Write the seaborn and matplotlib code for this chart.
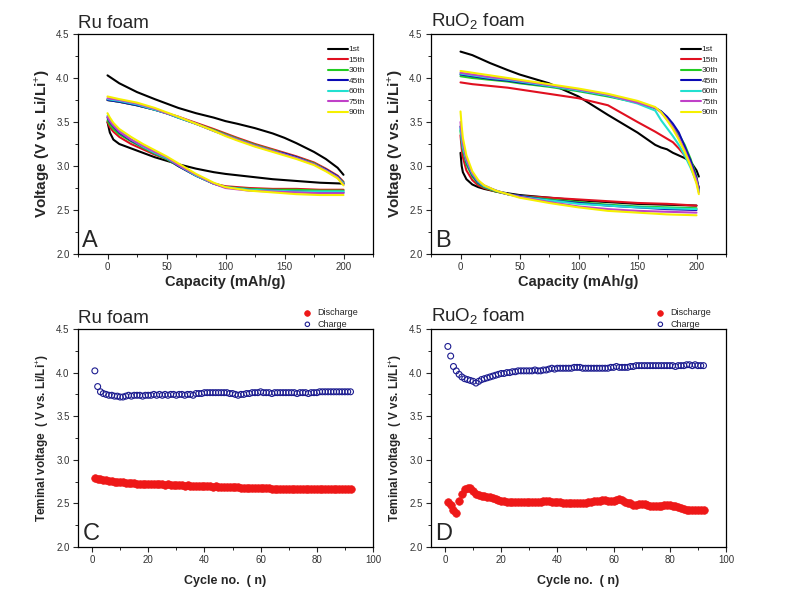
import numpy as np
import pandas as pd
import matplotlib
matplotlib.use("Agg")
import matplotlib.pyplot as plt
from matplotlib.ticker import MultipleLocator
import seaborn as sns

# ---------------- data ----------------
cycles = ["1st", "15th", "30th", "45th", "60th", "75th", "90th"]
cycle_colors = ["#000000", "#e01020", "#22cc22", "#0a0ab4", "#22e0d0", "#c040c8", "#f5f000"]

# Panel A (Ru foam) – discharge (lower) curves
capA_dis = [0, 2, 5, 10, 20, 30, 40, 50, 60, 75, 90, 100, 120, 140, 160, 180, 200]
A_dis_1st  = [3.50, 3.38, 3.30, 3.25, 3.20, 3.15, 3.10, 3.06, 3.02, 2.97, 2.93, 2.91, 2.88, 2.85, 2.83, 2.81, 2.80]
A_dis_15th = [3.50, 3.44, 3.39, 3.33, 3.25, 3.19, 3.13, 3.08, 3.00, 2.89, 2.80, 2.77, 2.75, 2.74, 2.74, 2.73, 2.73]
A_dis_30th = [3.52, 3.47, 3.42, 3.36, 3.28, 3.21, 3.14, 3.08, 3.00, 2.89, 2.80, 2.76, 2.74, 2.73, 2.73, 2.72, 2.72]
A_dis_45th = [3.55, 3.50, 3.45, 3.38, 3.29, 3.22, 3.15, 3.09, 3.00, 2.89, 2.80, 2.76, 2.73, 2.72, 2.71, 2.70, 2.70]
A_dis_60th = [3.57, 3.52, 3.47, 3.40, 3.30, 3.22, 3.15, 3.09, 3.01, 2.89, 2.80, 2.76, 2.73, 2.72, 2.71, 2.71, 2.71]
A_dis_75th = [3.56, 3.51, 3.46, 3.39, 3.30, 3.23, 3.16, 3.10, 3.01, 2.90, 2.80, 2.75, 2.72, 2.71, 2.70, 2.69, 2.69]
A_dis_90th = [3.60, 3.55, 3.49, 3.42, 3.33, 3.25, 3.18, 3.11, 3.03, 2.91, 2.81, 2.76, 2.72, 2.70, 2.68, 2.67, 2.67]
# Panel A – charge (upper) curves
capA_chg = [200, 195, 185, 175, 160, 150, 140, 125, 110, 100, 90, 75, 60, 50, 40, 25, 10, 0]
A_chg_1st  = [2.90, 2.98, 3.08, 3.16, 3.26, 3.32, 3.37, 3.43, 3.48, 3.51, 3.55, 3.60, 3.66, 3.71, 3.76, 3.84, 3.94, 4.03]
A_chg_15th = [2.82, 2.89, 2.97, 3.04, 3.11, 3.15, 3.19, 3.25, 3.32, 3.37, 3.42, 3.49, 3.56, 3.60, 3.64, 3.69, 3.73, 3.75]
A_chg_30th = [2.81, 2.88, 2.96, 3.03, 3.10, 3.14, 3.18, 3.24, 3.31, 3.36, 3.41, 3.48, 3.55, 3.60, 3.64, 3.69, 3.73, 3.75]
A_chg_45th = [2.80, 2.88, 2.96, 3.02, 3.10, 3.14, 3.17, 3.23, 3.30, 3.35, 3.40, 3.48, 3.55, 3.60, 3.64, 3.69, 3.73, 3.75]
A_chg_60th = [2.80, 2.87, 2.95, 3.02, 3.09, 3.13, 3.17, 3.23, 3.30, 3.35, 3.40, 3.48, 3.55, 3.60, 3.64, 3.70, 3.74, 3.76]
A_chg_75th = [2.79, 2.87, 2.95, 3.02, 3.09, 3.13, 3.17, 3.23, 3.30, 3.35, 3.40, 3.48, 3.56, 3.60, 3.65, 3.71, 3.75, 3.77]
A_chg_90th = [2.78, 2.86, 2.94, 3.01, 3.08, 3.12, 3.16, 3.22, 3.29, 3.34, 3.40, 3.48, 3.56, 3.61, 3.66, 3.72, 3.76, 3.79]

# Panel B (RuO2 foam) – discharge curves
capB_dis = [0, 1, 2, 5, 10, 15, 20, 30, 40, 50, 75, 100, 125, 150, 175, 200]
B_dis_1st  = [3.15, 3.00, 2.93, 2.85, 2.79, 2.76, 2.74, 2.71, 2.69, 2.67, 2.64, 2.61, 2.59, 2.57, 2.56, 2.55]
B_dis_15th = [3.35, 3.20, 3.10, 2.95, 2.84, 2.78, 2.75, 2.71, 2.68, 2.66, 2.64, 2.62, 2.60, 2.58, 2.57, 2.55]
B_dis_30th = [3.40, 3.28, 3.18, 3.02, 2.88, 2.80, 2.76, 2.71, 2.68, 2.66, 2.62, 2.59, 2.56, 2.54, 2.53, 2.52]
B_dis_45th = [3.45, 3.32, 3.22, 3.05, 2.90, 2.81, 2.77, 2.72, 2.68, 2.66, 2.61, 2.58, 2.55, 2.53, 2.51, 2.50]
B_dis_60th = [3.42, 3.30, 3.21, 3.06, 2.91, 2.82, 2.77, 2.72, 2.68, 2.65, 2.61, 2.57, 2.55, 2.53, 2.52, 2.51]
B_dis_75th = [3.50, 3.36, 3.26, 3.08, 2.92, 2.83, 2.78, 2.72, 2.68, 2.65, 2.59, 2.54, 2.51, 2.49, 2.48, 2.47]
B_dis_90th = [3.62, 3.45, 3.32, 3.12, 2.94, 2.84, 2.78, 2.72, 2.68, 2.64, 2.58, 2.53, 2.49, 2.47, 2.45, 2.44]
# Panel B – charge curves
capB_chg = [202, 200, 195, 190, 185, 180, 175, 170, 165, 150, 125, 100, 75, 50, 40, 25, 10, 0]
B_chg_1st  = [2.88, 2.95, 3.05, 3.09, 3.12, 3.15, 3.19, 3.21, 3.24, 3.38, 3.58, 3.79, 3.94, 4.04, 4.09, 4.17, 4.26, 4.30]
B_chg_15th = [2.76, 2.82, 3.02, 3.12, 3.20, 3.27, 3.31, 3.35, 3.39, 3.50, 3.69, 3.77, 3.82, 3.87, 3.89, 3.91, 3.93, 3.95]
B_chg_30th = [2.72, 2.88, 3.08, 3.24, 3.36, 3.46, 3.55, 3.62, 3.66, 3.72, 3.79, 3.85, 3.90, 3.94, 3.96, 3.98, 4.00, 4.02]
B_chg_45th = [2.74, 2.86, 3.06, 3.22, 3.38, 3.48, 3.56, 3.62, 3.66, 3.72, 3.80, 3.86, 3.91, 3.95, 3.97, 3.99, 4.02, 4.04]
B_chg_60th = [2.72, 2.82, 2.98, 3.12, 3.24, 3.34, 3.43, 3.52, 3.63, 3.71, 3.80, 3.86, 3.91, 3.96, 3.98, 4.00, 4.03, 4.05]
B_chg_75th = [2.70, 2.84, 3.02, 3.18, 3.32, 3.44, 3.53, 3.61, 3.66, 3.72, 3.81, 3.87, 3.92, 3.97, 3.99, 4.01, 4.04, 4.06]
B_chg_90th = [2.68, 2.80, 3.00, 3.16, 3.30, 3.42, 3.52, 3.61, 3.67, 3.74, 3.82, 3.88, 3.93, 3.98, 4.00, 4.03, 4.06, 4.08]

# Panels C/D – terminal voltage vs cycle number
cycle_no = list(range(1, 93))
C_charge = [4.02, 3.84, 3.78, 3.76, 3.75, 3.74, 3.74, 3.73, 3.73, 3.72,
            3.72, 3.73, 3.74, 3.73, 3.74, 3.74, 3.74, 3.73, 3.74, 3.74,
            3.74, 3.75, 3.74, 3.75, 3.74, 3.75, 3.74, 3.75, 3.75, 3.74,
            3.75, 3.75, 3.74, 3.75, 3.75, 3.74, 3.76, 3.76, 3.76, 3.77,
            3.77, 3.77, 3.77, 3.77, 3.77, 3.77, 3.77, 3.77, 3.76, 3.76,
            3.75, 3.74, 3.75, 3.75, 3.76, 3.76, 3.77, 3.77, 3.77, 3.78,
            3.77, 3.77, 3.77, 3.76, 3.77, 3.77, 3.77, 3.77, 3.77, 3.77,
            3.77, 3.77, 3.76, 3.77, 3.77, 3.77, 3.76, 3.77, 3.77, 3.77,
            3.78, 3.78, 3.78, 3.78, 3.78, 3.78, 3.78, 3.78, 3.78, 3.78,
            3.78, 3.78]
C_discharge = [2.79, 2.78, 2.78, 2.77, 2.77, 2.76, 2.76, 2.75, 2.75, 2.74,
               2.74, 2.73, 2.73, 2.73, 2.73, 2.72, 2.72, 2.72, 2.72, 2.72,
               2.72, 2.72, 2.72, 2.72, 2.72, 2.71, 2.72, 2.71, 2.71, 2.71,
               2.71, 2.71, 2.70, 2.71, 2.70, 2.70, 2.70, 2.70, 2.70, 2.70,
               2.70, 2.70, 2.69, 2.70, 2.69, 2.69, 2.69, 2.69, 2.69, 2.69,
               2.69, 2.69, 2.68, 2.68, 2.68, 2.68, 2.68, 2.68, 2.68, 2.68,
               2.68, 2.68, 2.68, 2.67, 2.67, 2.67, 2.67, 2.66, 2.67, 2.67,
               2.67, 2.67, 2.67, 2.67, 2.67, 2.67, 2.67, 2.67, 2.67, 2.67,
               2.66, 2.66, 2.66, 2.66, 2.66, 2.66, 2.66, 2.66, 2.66, 2.66,
               2.66, 2.66]
D_charge = [4.30, 4.19, 4.07, 4.02, 3.98, 3.95, 3.93, 3.92, 3.91, 3.90,
            3.88, 3.90, 3.92, 3.93, 3.94, 3.95, 3.96, 3.97, 3.98, 3.99,
            3.99, 4.00, 4.00, 4.01, 4.01, 4.02, 4.02, 4.02, 4.02, 4.02,
            4.02, 4.03, 4.02, 4.02, 4.03, 4.03, 4.04, 4.05, 4.04, 4.05,
            4.05, 4.05, 4.05, 4.05, 4.05, 4.06, 4.06, 4.06, 4.05, 4.05,
            4.05, 4.05, 4.05, 4.05, 4.05, 4.05, 4.05, 4.05, 4.06, 4.06,
            4.07, 4.06, 4.06, 4.06, 4.06, 4.07, 4.07, 4.08, 4.08, 4.08,
            4.08, 4.08, 4.08, 4.08, 4.08, 4.08, 4.08, 4.08, 4.08, 4.08,
            4.08, 4.07, 4.08, 4.08, 4.08, 4.09, 4.09, 4.08, 4.09, 4.08,
            4.08, 4.08]
D_discharge = [2.52, 2.48, 2.42, 2.39, 2.53, 2.61, 2.66, 2.68, 2.68, 2.64,
               2.61, 2.60, 2.59, 2.58, 2.57, 2.57, 2.56, 2.55, 2.54, 2.53,
               2.53, 2.52, 2.52, 2.52, 2.52, 2.52, 2.52, 2.52, 2.52, 2.52,
               2.52, 2.52, 2.52, 2.52, 2.53, 2.53, 2.53, 2.52, 2.52, 2.52,
               2.52, 2.51, 2.51, 2.51, 2.51, 2.51, 2.51, 2.51, 2.51, 2.51,
               2.52, 2.52, 2.53, 2.53, 2.53, 2.54, 2.54, 2.53, 2.53, 2.53,
               2.54, 2.55, 2.54, 2.52, 2.51, 2.50, 2.48, 2.48, 2.49, 2.49,
               2.49, 2.48, 2.47, 2.47, 2.47, 2.47, 2.47, 2.48, 2.48, 2.48,
               2.47, 2.47, 2.46, 2.45, 2.44, 2.43, 2.43, 2.43, 2.43, 2.43,
               2.43, 2.43]

# ---------------- build tables ----------------
def loop_table(cap_dis, dis_list, cap_chg, chg_list):
    rows = []
    for cyc, d, c in zip(cycles, dis_list, chg_list):
        for x, v in zip(cap_dis, d):
            rows.append((cyc, cyc + "_d", x, v))
        for x, v in zip(cap_chg, c):
            rows.append((cyc, cyc + "_c", x, v))
    return pd.DataFrame(rows, columns=["cycle", "seg", "cap", "V"])

dfA = loop_table(capA_dis, [A_dis_1st, A_dis_15th, A_dis_30th, A_dis_45th, A_dis_60th, A_dis_75th, A_dis_90th],
                 capA_chg, [A_chg_1st, A_chg_15th, A_chg_30th, A_chg_45th, A_chg_60th, A_chg_75th, A_chg_90th])
dfB = loop_table(capB_dis, [B_dis_1st, B_dis_15th, B_dis_30th, B_dis_45th, B_dis_60th, B_dis_75th, B_dis_90th],
                 capB_chg, [B_chg_1st, B_chg_15th, B_chg_30th, B_chg_45th, B_chg_60th, B_chg_75th, B_chg_90th])

# ---------------- style ----------------
sns.set_style("ticks")
plt.rcParams["font.family"] = ["Liberation Sans", "DejaVu Sans"]
plt.rcParams["mathtext.fontset"] = "custom"
plt.rcParams["mathtext.rm"] = "Liberation Sans"
plt.rcParams["mathtext.bf"] = "Liberation Sans:bold"

fig = plt.figure(figsize=(7.87, 5.99), dpi=100)
W, H = 787, 599
def ax_at(l, t, r, b):
    return fig.add_axes([l / W, 1 - b / H, (r - l) / W, (b - t) / H])

axA = ax_at(78, 34, 373, 254)
axB = ax_at(431, 34, 726, 254)
axC = ax_at(78, 329, 373, 547)
axD = ax_at(431, 329, 726, 547)

palette = dict(zip(cycles, cycle_colors))

def style_axes(ax, xlim, xmajor, xminor):
    ax.set_xlim(*xlim)
    ax.set_ylim(2.0, 4.5)
    ax.xaxis.set_major_locator(MultipleLocator(xmajor))
    ax.xaxis.set_minor_locator(MultipleLocator(xminor))
    ax.yaxis.set_major_locator(MultipleLocator(0.5))
    ax.yaxis.set_minor_locator(MultipleLocator(0.25))
    ax.yaxis.set_major_formatter(matplotlib.ticker.FormatStrFormatter("%.1f"))
    ax.tick_params(which="major", direction="out", length=3.5, width=0.8,
                   labelsize=7, labelcolor="#333333", pad=2.5)
    ax.tick_params(which="minor", direction="out", length=2, width=0.7)
    for s in ax.spines.values():
        s.set_visible(True)
        s.set_linewidth(0.9)
        s.set_color("black")

for ax, df, title in [(axA, dfA, "Ru foam"), (axB, dfB, "RuO$_2$ foam")]:
    sns.lineplot(data=df, x="cap", y="V", hue="cycle", units="seg", estimator=None,
                 sort=False, palette=palette, hue_order=cycles, linewidth=1.5, ax=ax)
    style_axes(ax, (-25, 225), 50, 25)
    sns.move_legend(ax, "upper right", bbox_to_anchor=(0.99, 0.97), frameon=False,
                    fontsize=6, title=None, handlelength=2.3, handletextpad=0.1,
                    labelspacing=0.32, borderaxespad=0.2)
    for line in ax.get_legend().get_lines():
        line.set_linewidth(1.5)
    ax.set_xlabel("Capacity (mAh/g)", fontsize=10.5, fontweight="bold", labelpad=2)
    ax.set_ylabel("Voltage (V vs. Li/Li$^{+}$)", fontsize=11, fontweight="bold", labelpad=3)
    ax.text(0.0, 1.01, title, transform=ax.transAxes, fontsize=13.5, ha="left", va="bottom")

for ax, dis, chg, title in [(axC, C_discharge, C_charge, "Ru foam"),
                            (axD, D_discharge, D_charge, "RuO$_2$ foam")]:
    sns.scatterplot(x=cycle_no, y=dis, ax=ax, marker="o", s=30, color="#ee1818",
                    edgecolor="#ee1818", linewidth=0.5, label="Discharge", zorder=3)
    sns.scatterplot(x=cycle_no, y=chg, ax=ax, marker="o", s=18, facecolor="none",
                    edgecolor="#1c1c90", linewidth=0.8, label="Charge", zorder=3)
    style_axes(ax, (-5, 100), 20, 10)
    ax.legend(loc="lower left", bbox_to_anchor=(0.75, 0.985), frameon=False,
              fontsize=6.5, handletextpad=0.6, labelspacing=0.25, borderaxespad=0.0,
              handlelength=1.0, markerscale=0.75)
    ax.set_xlabel("Cycle no.  ( n)", fontsize=9, fontweight="bold", labelpad=7)
    ax.set_ylabel("Teminal voltage  ( V vs. Li/Li$^{+}$)", fontsize=8.5, fontweight="bold", labelpad=4)
    ax.text(0.0, 1.01, title, transform=ax.transAxes, fontsize=13.5, ha="left", va="bottom")

for ax, letter in zip([axA, axB, axC, axD], "ABCD"):
    ax.text(0.015, 0.01, letter, transform=ax.transAxes, fontsize=17, ha="left", va="bottom")

fig.savefig("out.png", dpi=100)
